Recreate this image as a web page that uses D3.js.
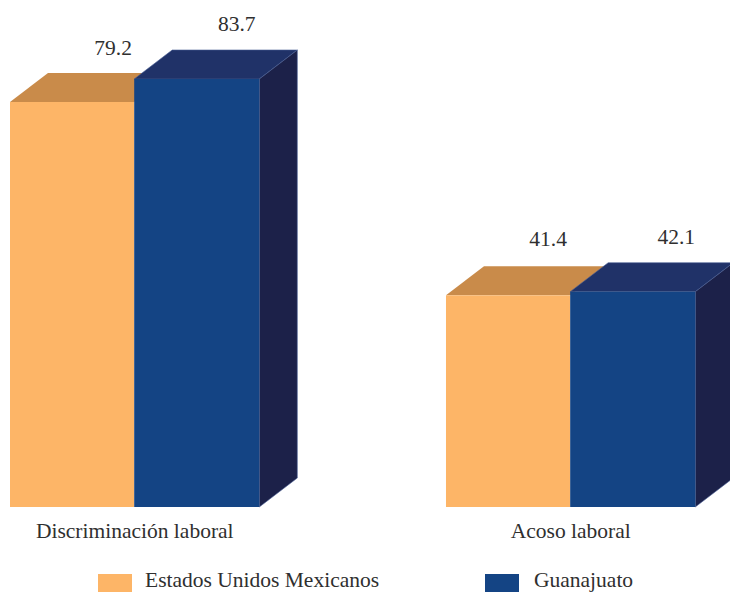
<!DOCTYPE html>
<html><head><meta charset="utf-8">
<script src="https://cdn.jsdelivr.net/npm/d3@7"></script>
<style>html,body{margin:0;padding:0;background:#fff;overflow:hidden}svg{display:block}
text{font-family:"Liberation Serif",serif;fill:#2f2f2f;font-size:21.5px}</style></head><body>
<script>
const categories = ["Discriminación laboral", "Acoso laboral"];
const seriesNames = ["Estados Unidos Mexicanos", "Guanajuato"];
const estadosUnidos = [79.2, 41.4];
const guanajuato = [83.7, 42.1];
const seriesValues = [estadosUnidos, guanajuato];
const frontColors = ["#FDB567", "#144484"];
const topColors = ["#C98B4A", "#203268"];
const sideColor = "#1C2149";
const edgeColors = ["none", "#4a5f95"];

const W = 730, H = 592, dx = 38, dy = 29, base = 507;
// hand-placed label nudges [series][category]
const nudgeX = [[0, -1], [-0.5, 3]];
const nudgeY = [[0.5, -1.5], [0.5, 0]];

const svg = d3.select("body").append("svg").attr("width", W).attr("height", H);
const y = d3.scaleLinear().domain([0, 79.2]).range([base, 102]);
const x0 = d3.scaleBand().domain(categories).range([10, 695.5]).paddingInner(0.4277);
const x1 = d3.scaleBand().domain(seriesNames).range([0, 248.4]);
const overhang = [0, 0.9];

categories.forEach((c, i) => {
  const g = svg.append("g");
  seriesNames.forEach((s, j) => {
    const v = seriesValues[j][i];
    const w = x1.bandwidth() + overhang[j];
    const xl = x0(c) + x1(s), xr = xl + w, t = y(v), b = y(0);
    const poly = pts => pts.map(p => p.join(",")).join(" ");
    g.append("polygon").attr("points", poly([[xl, t], [xr, t], [xr + dx, t - dy], [xl + dx, t - dy]]))
      .attr("fill", topColors[j]).attr("stroke", edgeColors[j]).attr("stroke-width", 0.6);
    if (j === 1) g.append("polygon").attr("points", poly([[xr, t], [xr + dx, t - dy], [xr + dx, b - dy], [xr, b]]))
      .attr("fill", sideColor).attr("stroke", edgeColors[j]).attr("stroke-width", 0.6);
    g.append("rect").attr("x", xl).attr("y", t).attr("width", w).attr("height", b - t)
      .attr("fill", frontColors[j]);
  });
  seriesNames.forEach((s, j) => {
    const v = seriesValues[j][i];
    g.append("text").attr("x", x0(c) + x1(s) + x1.bandwidth() / 2 + 41 + nudgeX[j][i]).attr("y", y(v) - 48 + nudgeY[j][i])
      .attr("text-anchor", "middle").text(v.toFixed(1));
  });
});

const axis = svg.append("g").attr("transform", `translate(0,${base})`)
  .call(d3.axisBottom(x0).tickSize(0).tickPadding(0));
axis.select(".domain").remove();
axis.selectAll("text").attr("dy", null).attr("y", 31).style("font-family", '"Liberation Serif",serif').style("font-size", "21.5px")
  .attr("fill", null);

const legendX = d3.scaleOrdinal().domain(seriesNames).range([98, 485]);
const legendT = d3.scaleOrdinal().domain(seriesNames).range([145, 534]);
seriesNames.forEach((s, j) => {
  svg.append("rect").attr("x", legendX(s)).attr("y", 574).attr("width", 34).attr("height", 18).attr("fill", frontColors[j]);
  svg.append("text").attr("x", legendT(s)).attr("y", 587.2).text(s);
});
</script></body></html>
